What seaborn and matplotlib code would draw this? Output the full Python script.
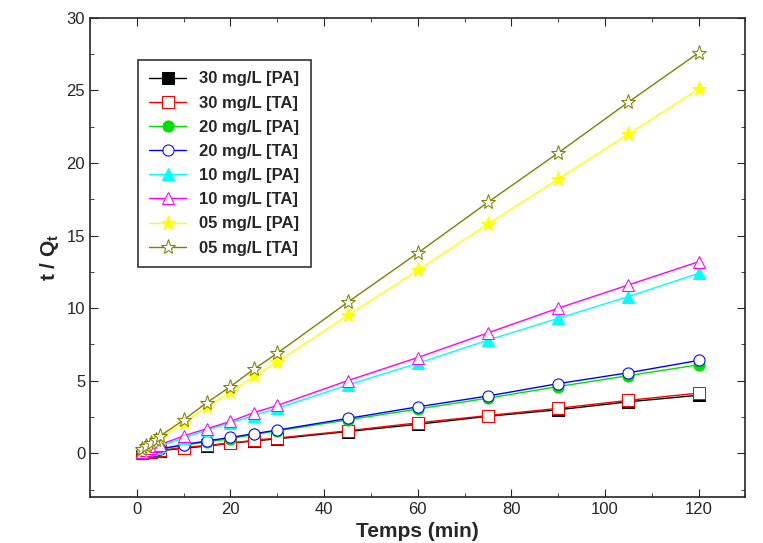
import numpy as np
import pandas as pd
import seaborn as sns
import matplotlib.pyplot as plt
from matplotlib.ticker import MultipleLocator

temps = [1, 2, 3, 4, 5, 10, 15, 20, 25, 30, 45, 60, 75, 90, 105, 120]
pa_30 = [0.04, 0.08, 0.11, 0.14, 0.18, 0.35, 0.5, 0.7, 0.85, 1.0, 1.5, 2.0, 2.55, 3.0, 3.55, 4.0]
ta_30 = [0.05, 0.09, 0.12, 0.16, 0.2, 0.4, 0.55, 0.7, 0.9, 1.05, 1.55, 2.1, 2.6, 3.1, 3.65, 4.15]
pa_20 = [0.06, 0.11, 0.17, 0.22, 0.28, 0.55, 0.8, 1.0, 1.3, 1.55, 2.3, 3.05, 3.8, 4.6, 5.35, 6.1]
ta_20 = [0.07, 0.12, 0.18, 0.24, 0.3, 0.6, 0.85, 1.1, 1.35, 1.6, 2.4, 3.2, 3.95, 4.8, 5.55, 6.4]
pa_10 = [0.1, 0.2, 0.3, 0.4, 0.5, 1.05, 1.6, 2.1, 2.6, 3.1, 4.7, 6.2, 7.8, 9.3, 10.8, 12.4]
ta_10 = [0.12, 0.24, 0.36, 0.48, 0.6, 1.2, 1.7, 2.2, 2.8, 3.3, 5.0, 6.6, 8.3, 10.0, 11.6, 13.2]
pa_05 = [0.25, 0.46, 0.68, 0.9, 1.1, 2.1, 3.2, 4.2, 5.3, 6.3, 9.5, 12.6, 15.8, 18.9, 22.0, 25.1]
ta_05 = [0.28, 0.5, 0.72, 0.95, 1.2, 2.3, 3.5, 4.6, 5.8, 6.9, 10.4, 13.8, 17.3, 20.7, 24.2, 27.6]

series = [
    ("30 mg/L [PA]", pa_30, "black", "s", True),
    ("30 mg/L [TA]", ta_30, "red", "s", False),
    ("20 mg/L [PA]", pa_20, "#00e000", "o", True),
    ("20 mg/L [TA]", ta_20, "blue", "o", False),
    ("10 mg/L [PA]", pa_10, "cyan", "^", True),
    ("10 mg/L [TA]", ta_10, "magenta", "^", False),
    ("05 mg/L [PA]", pa_05, "yellow", "*", True),
    ("05 mg/L [TA]", ta_05, "olive", "*", False),
]

sns.set_style("ticks")
plt.rcParams['font.family'] = ['Liberation Sans', 'DejaVu Sans']
plt.rcParams['mathtext.default'] = 'regular'
fig, ax = plt.subplots(figsize=(7.63, 5.43), dpi=100)

for label, vals, color, marker, filled in series:
    df = pd.DataFrame({"t": temps, "v": vals})
    ms = 11 if marker == "*" else 8
    sns.lineplot(data=df, x="t", y="v", ax=ax, color=color, marker=marker, markersize=ms,
                 markerfacecolor=color if filled else "white", markeredgecolor=color,
                 linewidth=1, label=label)

ax.set_xlim(-10, 130)
ax.set_ylim(-3, 30)
ax.xaxis.set_major_locator(MultipleLocator(20))
ax.xaxis.set_minor_locator(MultipleLocator(10))
ax.yaxis.set_major_locator(MultipleLocator(5))
ax.yaxis.set_minor_locator(MultipleLocator(2.5))
ax.tick_params(which="both", direction="in", top=True, right=True, labelsize=12)
ax.tick_params(which="major", length=6)
ax.tick_params(which="minor", length=3)
for s in ax.spines.values():
    s.set_linewidth(1.2)
ax.set_xlabel("Temps (min)", fontsize=15, fontweight="bold")
ax.set_ylabel("t / Q$_{t}$", fontsize=15, fontweight="bold")
leg = ax.legend(loc="upper left", bbox_to_anchor=(0.06, 0.93), frameon=True, fancybox=False,
                edgecolor="black", prop={"weight": "bold", "size": 12}, handlelength=2.2,
                labelspacing=0.55, borderpad=0.7)
leg.get_frame().set_linewidth(1.2)
fig.subplots_adjust(left=0.118, right=0.977, top=0.967, bottom=0.085)
fig.savefig("out.png")
